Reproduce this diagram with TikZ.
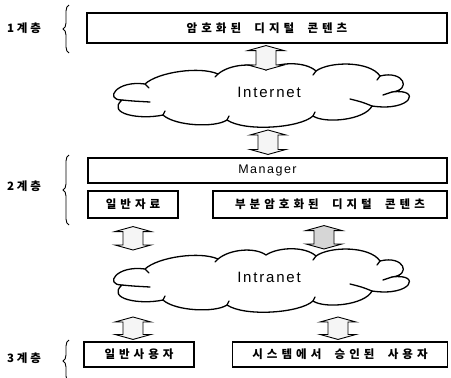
\documentclass[tikz,border=0pt]{standalone}
\usepackage{fontspec}
\setmainfont{Liberation Sans}
\newfontfamily\kr[LetterSpace=35,WordSpace=2]{Noto Sans CJK KR}
\newfontfamily\krlabel[LetterSpace=25]{Noto Sans CJK KR}
\newfontfamily\lat[LetterSpace=12]{Liberation Sans}
\usetikzlibrary{calc,decorations.pathreplacing}

\begin{document}
\begin{tikzpicture}[x=1pt,y=-1pt,
  box/.style={draw, line width=1.1pt, inner sep=0pt, font={\kr\bfseries\fontsize{11.5}{13}\selectfont}},
  netlabel/.style={inner sep=0pt, font={\lat\fontsize{15}{17}\selectfont}},
  tier/.style={inner sep=0pt, font={\krlabel\bfseries\fontsize{11.5}{13}\selectfont}},
  tierbrace/.style={decorate, decoration={brace, amplitude=6pt}, line width=0.9pt},
  cloudline/.style={line width=1.3pt, line join=round, line cap=round},
  blockarrow/.style={draw, line width=0.9pt, line join=miter, fill=#1,
    to path={let \p1=(\tikztostart), \p2=(\tikztotarget) in
      -- (\x1+18pt,\y1-5pt) -- (\x1+10pt,\y1-5pt) -- (\x1+10pt,\y2+5pt)
      -- (\x1+18pt,\y2+5pt) -- (\x1,\y2) -- (\x1-18pt,\y2+5pt)
      -- (\x1-10pt,\y2+5pt) -- (\x1-10pt,\y1-5pt) -- (\x1-18pt,\y1-5pt) -- cycle}},
  blockarrow/.default=black!4,
  netcloud/.pic={
    \draw[cloudline, fill=white]
      (122,100) .. controls (104,100) and (116,80) .. (145,84)
      .. controls (158,72) and (200,66) .. (218,74)
      .. controls (230,64) and (255,62) .. (266,70)
      .. controls (278,62) and (305,61) .. (316,71)
      .. controls (330,61) and (370,61) .. (380,76)
      .. controls (404,70) and (412,90) .. (392,92)
      .. controls (422,88) and (412,112) .. (372,106)
      .. controls (365,120) and (325,124) .. (313,116)
      .. controls (300,128) and (245,132) .. (227,120)
      .. controls (215,128) and (175,126) .. (163,115)
      .. controls (140,120) and (106,114) .. (122,100) -- cycle;
    % inner strokes where the puffs meet
    \draw[cloudline] (122,100) .. controls (132,101) .. (150,102);
    \draw[cloudline] (372,106) .. controls (362,102) .. (350,99);
    \draw[cloudline] (392,92) -- (383,95);
    \draw[cloudline] (145,84) -- (149,88);
    \draw[cloudline] (218,74) -- (215,77);
    \draw[cloudline] (316,71) -- (313,75);
    \draw[cloudline] (380,76) -- (377,80);
    \draw[cloudline] (313,116) -- (315,112);
    \draw[cloudline] (227,120) -- (229,116);
    \draw[cloudline] (163,115) -- (165,111);
  }]
\useasboundingbox (0,0) rectangle (451,378);

% tier labels and braces
\node[tier] (t1) at (24,28) {1계층};
\node[tier] (t2) at (24,186) {2계층};
\node[tier] (t3) at (24,358) {3계층};
\draw[tierbrace] (69,53) -- (69,5);
\draw[tierbrace] (69,225) -- (69,155);
\draw[tierbrace] (69,382) -- (69,340);

% clouds
\pic at (0,0) {netcloud};
\pic at (0,185) {netcloud};
\node[netlabel] (inet) at (269,92) {Internet};
\node[netlabel] (intra) at (269,277) {Intranet};

% boxes
\node[box, minimum width=360, minimum height=30] (enc) at (267,28) {암호화된 디지털 콘텐츠};
\node[box, minimum width=359, minimum height=25, font={\lat\fontsize{12.5}{14}\selectfont}] (mgr) at (267.5,170.5) {Manager};
\node[box, minimum width=90, minimum height=27] (gen) at (133,204.5) {일반자료};
\node[box, minimum width=234, minimum height=27] (part) at (330,204.5) {부분암호화된 디지털 콘텐츠};
\node[box, minimum width=110, minimum height=25] (ugen) at (139,354.5) {일반사용자};
\node[box, minimum width=215, minimum height=25] (uauth) at (340,354.5) {시스템에서 승인된 사용자};

% block arrows between the layers
\draw[blockarrow] ($(enc.south)+(-1,2)$) to ($(inet.center)+(-3,-22)$);
\draw[blockarrow] ($(inet.center)+(-1,38)$) to ($(mgr.north)+(0.5,-3)$);
\draw[blockarrow] ($(gen.south)+(0,8)$) to ($(intra.center -| gen.south)+(0,-27)$);
\draw[blockarrow=black!16] ($(part.south)+(-6,7)$) to ($(intra.center -| part.south)+(-6,-28)$);
\draw[blockarrow] ($(intra.center -| ugen.north)+(-6,40)$) to ($(ugen.north)+(-6,-2)$);
\draw[blockarrow] ($(intra.center -| uauth.north)+(-2,40)$) to ($(uauth.north)+(-2,-2)$);
\end{tikzpicture}
\end{document}
